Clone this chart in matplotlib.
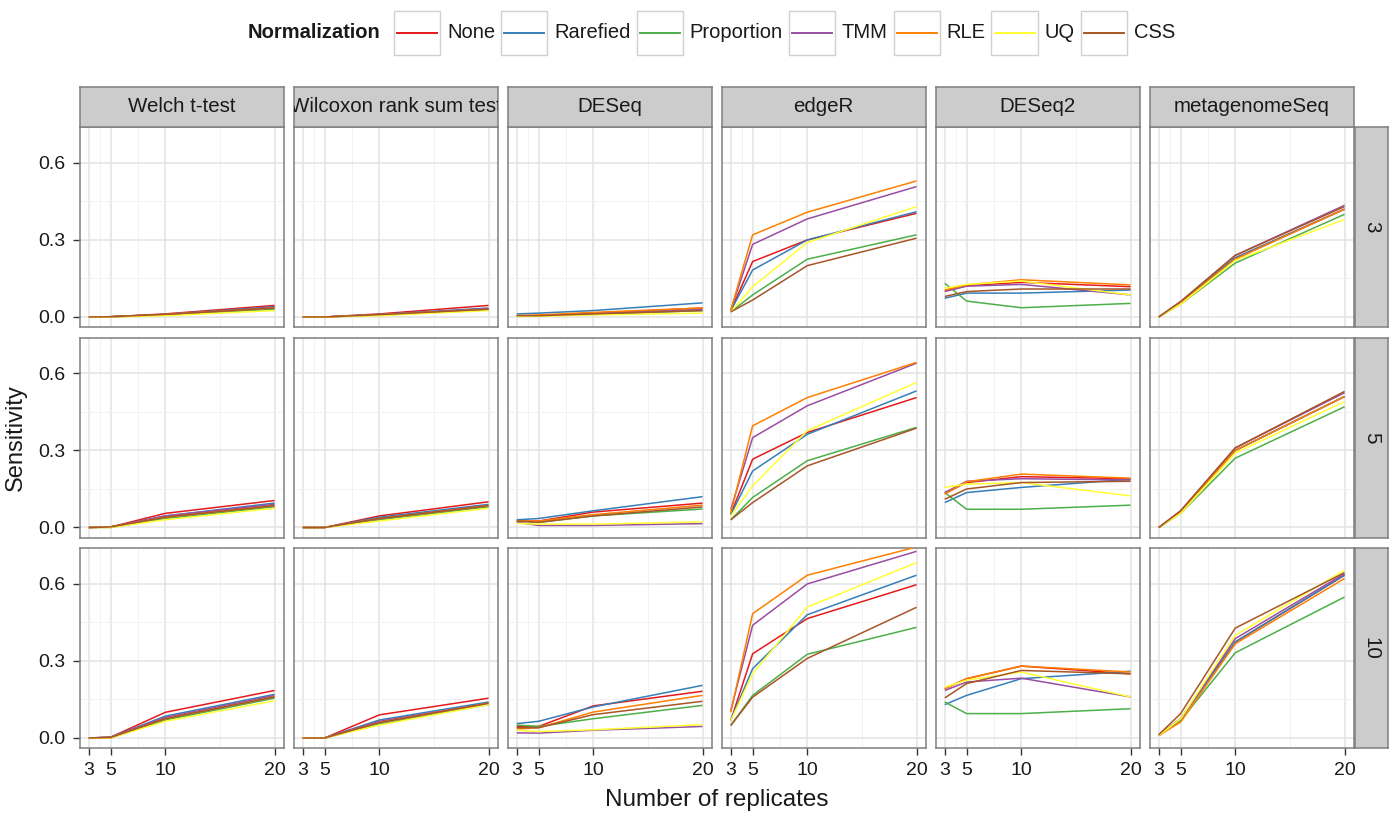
import matplotlib
matplotlib.use("Agg")
import matplotlib.pyplot as plt
from matplotlib.patches import Rectangle
from matplotlib.lines import Line2D

# ---------------- data ----------------
replicates = [3, 5, 10, 20]
methods = ["Welch t-test", "Wilcoxon rank sum test", "DESeq", "edgeR", "DESeq2", "metagenomeSeq"]
effect_sizes = ["3", "5", "10"]
normalizations = ["None", "Rarefied", "Proportion", "TMM", "RLE", "UQ", "CSS"]
norm_colors = ["#E41A1C", "#377EB8", "#4DAF4A", "#984EA3", "#FF7F00", "#FFFF33", "#A65628"]
y_ticks = [0.0, 0.3, 0.6]
y_tick_labels = ["0.0", "0.3", "0.6"]

# rows of each array follow `normalizations`, columns follow `replicates`
welch_es3 = [[0, 0.001, 0.012, 0.045], [0, 0.001, 0.010, 0.040], [0, 0, 0.008, 0.030],
             [0, 0.001, 0.010, 0.038], [0, 0.001, 0.010, 0.035], [0, 0, 0.005, 0.025],
             [0, 0.001, 0.010, 0.035]]
wilcox_es3 = [[0, 0, 0.012, 0.045], [0, 0, 0.010, 0.035], [0, 0, 0.007, 0.028],
              [0, 0, 0.009, 0.032], [0, 0, 0.009, 0.030], [0, 0, 0.005, 0.025],
              [0, 0, 0.009, 0.030]]
deseq_es3 = [[0.005, 0.005, 0.015, 0.035], [0.012, 0.015, 0.025, 0.055], [0.005, 0.005, 0.010, 0.025],
             [0.005, 0.005, 0.015, 0.030], [0.005, 0.008, 0.018, 0.035], [0.002, 0.003, 0.008, 0.015],
             [0.005, 0.005, 0.012, 0.025]]
edger_es3 = [[0.025, 0.216, 0.300, 0.404], [0.025, 0.183, 0.300, 0.410], [0.020, 0.086, 0.225, 0.320],
             [0.027, 0.283, 0.382, 0.508], [0.027, 0.320, 0.408, 0.530], [0.020, 0.118, 0.290, 0.430],
             [0.020, 0.066, 0.200, 0.307]]
deseq2_es3 = [[0.100, 0.122, 0.135, 0.118], [0.073, 0.093, 0.093, 0.105], [0.131, 0.062, 0.036, 0.053],
              [0.100, 0.120, 0.127, 0.086], [0.105, 0.125, 0.145, 0.125], [0.112, 0.127, 0.140, 0.086],
              [0.080, 0.099, 0.109, 0.109]]
mgs_es3 = [[0, 0.055, 0.230, 0.420], [0, 0.055, 0.230, 0.420], [0, 0.050, 0.210, 0.400],
           [0, 0.060, 0.240, 0.435], [0, 0.055, 0.225, 0.420], [0, 0.050, 0.220, 0.380],
           [0, 0.060, 0.240, 0.430]]

welch_es5 = [[0, 0.002, 0.055, 0.105], [0, 0.002, 0.045, 0.095], [0, 0, 0.035, 0.080],
             [0, 0.002, 0.045, 0.090], [0, 0.002, 0.040, 0.085], [0, 0, 0.030, 0.075],
             [0, 0.002, 0.040, 0.085]]
wilcox_es5 = [[0, 0, 0.045, 0.100], [0, 0, 0.040, 0.090], [0, 0, 0.030, 0.080],
              [0, 0, 0.035, 0.085], [0, 0, 0.035, 0.085], [0, 0, 0.025, 0.075],
              [0, 0, 0.035, 0.085]]
deseq_es5 = [[0.025, 0.025, 0.060, 0.095], [0.030, 0.035, 0.065, 0.120], [0.025, 0.020, 0.045, 0.072],
             [0.020, 0.008, 0.008, 0.015], [0.025, 0.025, 0.050, 0.087], [0.016, 0.013, 0.013, 0.022],
             [0.025, 0.020, 0.045, 0.080]]
edger_es5 = [[0.052, 0.266, 0.370, 0.506], [0.050, 0.220, 0.363, 0.532], [0.030, 0.117, 0.260, 0.390],
             [0.070, 0.350, 0.474, 0.640], [0.058, 0.396, 0.506, 0.643], [0.045, 0.162, 0.377, 0.565],
             [0.030, 0.097, 0.240, 0.387]]
deseq2_es5 = [[0.133, 0.175, 0.198, 0.190], [0.097, 0.136, 0.156, 0.188], [0.136, 0.071, 0.071, 0.087],
              [0.136, 0.180, 0.190, 0.185], [0.130, 0.178, 0.208, 0.192], [0.156, 0.169, 0.175, 0.123],
              [0.110, 0.150, 0.175, 0.180]]
mgs_es5 = [[0, 0.060, 0.300, 0.510], [0, 0.060, 0.300, 0.510], [0, 0.055, 0.270, 0.470],
           [0, 0.065, 0.310, 0.525], [0, 0.060, 0.300, 0.510], [0, 0.055, 0.290, 0.490],
           [0, 0.065, 0.310, 0.530]]

welch_es10 = [[0, 0.003, 0.100, 0.185], [0, 0.003, 0.085, 0.170], [0, 0, 0.070, 0.155],
              [0, 0.003, 0.080, 0.165], [0, 0.002, 0.075, 0.160], [0, 0, 0.065, 0.145],
              [0, 0.002, 0.075, 0.160]]
wilcox_es10 = [[0, 0, 0.090, 0.155], [0, 0, 0.070, 0.140], [0, 0, 0.055, 0.130],
               [0, 0, 0.065, 0.135], [0, 0, 0.060, 0.135], [0, 0, 0.050, 0.130],
               [0, 0, 0.060, 0.135]]
deseq_es10 = [[0.045, 0.045, 0.125, 0.182], [0.056, 0.065, 0.121, 0.205], [0.050, 0.045, 0.075, 0.127],
              [0.020, 0.019, 0.030, 0.045], [0.035, 0.040, 0.101, 0.166], [0.030, 0.025, 0.032, 0.052],
              [0.040, 0.040, 0.091, 0.143]]
edger_es10 = [[0.068, 0.328, 0.465, 0.597], [0.070, 0.270, 0.480, 0.634], [0.049, 0.166, 0.326, 0.431],
              [0.107, 0.439, 0.600, 0.727], [0.101, 0.484, 0.634, 0.744], [0.068, 0.250, 0.510, 0.683],
              [0.049, 0.159, 0.310, 0.509]]
deseq2_es10 = [[0.192, 0.231, 0.280, 0.250], [0.130, 0.166, 0.231, 0.260], [0.140, 0.095, 0.095, 0.114],
               [0.185, 0.218, 0.233, 0.160], [0.192, 0.231, 0.280, 0.257], [0.198, 0.225, 0.257, 0.160],
               [0.156, 0.212, 0.263, 0.250]]
mgs_es10 = [[0.010, 0.075, 0.374, 0.634], [0.010, 0.075, 0.374, 0.634], [0.010, 0.068, 0.332, 0.549],
            [0.010, 0.075, 0.387, 0.640], [0.010, 0.062, 0.367, 0.621], [0.010, 0.075, 0.400, 0.653],
            [0.013, 0.095, 0.428, 0.644]]

panels = [
    [welch_es3, wilcox_es3, deseq_es3, edger_es3, deseq2_es3, mgs_es3],
    [welch_es5, wilcox_es5, deseq_es5, edger_es5, deseq2_es5, mgs_es5],
    [welch_es10, wilcox_es10, deseq_es10, edger_es10, deseq2_es10, mgs_es10],
]

# ---------------- style / layout ----------------
FONT = "Liberation Sans"
plt.rcParams["font.family"] = [FONT, "DejaVu Sans"]
W, H = 1395, 816
fig = plt.figure(figsize=(W / 100, H / 100), dpi=100)
fig.patch.set_facecolor("white")


def frac(x0, y0, w, h):
    return [x0 / W, 1 - (y0 + h) / H, w / W, h / H]


col_left0, col_step, col_w = 79.5, 214.0, 204.3
row_top0, row_step, row_h = 127.0, 210.5, 200.0
strip_h = 40.0
rstrip_x, rstrip_w = 1354.5, 33.5
border = "#7F7F7F"
strip_fill = "#CCCCCC"
txt_col = "#1A1A1A"
tick_col = "#333333"

for r in range(3):
    for c in range(6):
        x0 = col_left0 + c * col_step
        y0 = row_top0 + r * row_step
        ax = fig.add_axes(frac(x0, y0, col_w, row_h))
        ax.set_xlim(2.15, 20.85)
        ax.set_ylim(-0.039, 0.740)
        ax.set_xticks(replicates)
        ax.set_xticks([4, 7.5, 15], minor=True)
        ax.set_yticks(y_ticks)
        ax.set_yticks([0.15, 0.45], minor=True)
        ax.grid(which="major", color="#E3E3E3", linewidth=1.1)
        ax.grid(which="minor", color="#F2F2F2", linewidth=0.7)
        ax.set_axisbelow(True)
        for s in ax.spines.values():
            s.set_color(border)
            s.set_linewidth(1.1)
        ax.tick_params(which="minor", length=0)
        ax.tick_params(which="major", length=5, width=1.0, color=tick_col,
                       labelsize=14, labelcolor=txt_col, pad=5)
        if r == 2:
            ax.set_xticklabels([str(v) for v in replicates])
        else:
            ax.tick_params(axis="x", which="major", length=0, labelbottom=False)
        if c == 0:
            ax.set_yticklabels(y_tick_labels)
        else:
            ax.tick_params(axis="y", which="major", length=0, labelleft=False)

        data = panels[r][c]
        for k, name in enumerate(normalizations):
            ax.plot(replicates, data[k], color=norm_colors[k], linewidth=1.1,
                    solid_capstyle="butt", zorder=3 + k)

        # top strips
        if r == 0:
            sax = fig.add_axes(frac(x0, row_top0 - strip_h, col_w, strip_h))
            sax.set_facecolor(strip_fill)
            sax.set_xticks([]); sax.set_yticks([])
            for s in sax.spines.values():
                s.set_color(border); s.set_linewidth(1.1)
            sax.text(0.5, 0.5, methods[c], ha="center", va="center", fontsize=14.8,
                     color=txt_col, transform=sax.transAxes, clip_on=True)
        # right strips
        if c == 5:
            rax = fig.add_axes(frac(rstrip_x, y0, rstrip_w, row_h))
            rax.set_facecolor(strip_fill)
            rax.set_xticks([]); rax.set_yticks([])
            for s in rax.spines.values():
                s.set_color(border); s.set_linewidth(1.1)
            rax.text(0.5, 0.5, effect_sizes[r], ha="center", va="center", fontsize=14.8,
                     color=txt_col, rotation=-90, transform=rax.transAxes, clip_on=True)

# axis titles
panel_cx = (col_left0 + 5 * col_step + col_w + col_left0) / 2
panel_cy = (row_top0 + 2 * row_step + row_h + row_top0) / 2
fig.text(panel_cx / W, 1 - 800 / H, "Number of replicates", ha="center", va="center",
         fontsize=17.5, color=txt_col)
fig.text(16 / W, 1 - panel_cy / H, "Sensitivity", ha="center", va="center",
         rotation=90, fontsize=17, color=txt_col)

# legend
renderer = fig.canvas.get_renderer()
leg_y = 33.0
fig.text(248 / W, 1 - leg_y / H, "Normalization", ha="left", va="center",
         fontsize=14.5, fontweight="bold", color=txt_col)
x = 394.0
key_w, key_h = 46.0, 44.0
for k, name in enumerate(normalizations):
    fig.add_artist(Rectangle((x / W, 1 - (leg_y + key_h / 2) / H), key_w / W, key_h / H,
                             transform=fig.transFigure, facecolor="white",
                             edgecolor="#D0D0D0", linewidth=1.0))
    fig.add_artist(Line2D([(x + 3) / W, (x + key_w - 3) / W], [1 - leg_y / H, 1 - leg_y / H],
                          transform=fig.transFigure, color=norm_colors[k], linewidth=1.4))
    t = fig.text((x + key_w + 7) / W, 1 - leg_y / H, name, ha="left", va="center",
                 fontsize=14.5, color=txt_col)
    tw = t.get_window_extent(renderer).width
    x = x + key_w + 7 + tw + 6

fig.savefig("out.png", dpi=100, facecolor="white")
